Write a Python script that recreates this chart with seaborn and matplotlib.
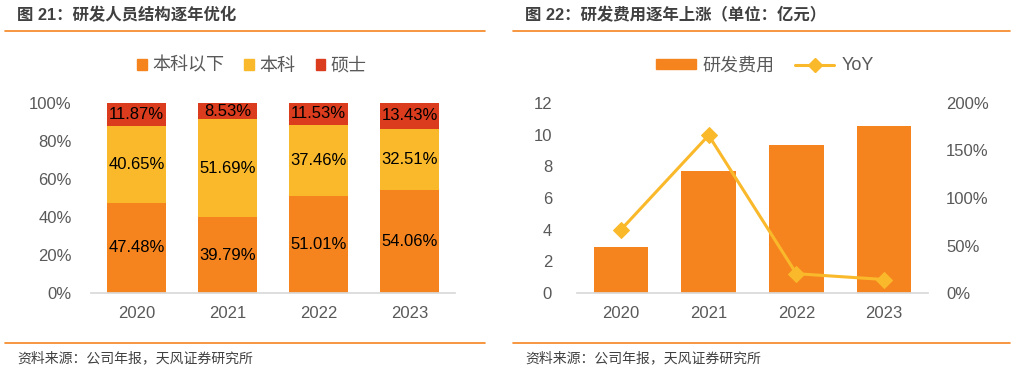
import numpy as np
import pandas as pd
import matplotlib
matplotlib.use("Agg")
import matplotlib.pyplot as plt
import seaborn as sns
from matplotlib.patches import Patch
from matplotlib.lines import Line2D

# data
years = ["2020", "2021", "2022", "2023"]
below_bachelor = [47.48, 39.79, 51.01, 54.06]
bachelor = [40.65, 51.69, 37.46, 32.51]
master = [11.87, 8.53, 11.53, 13.43]

rd_cost = [2.90, 7.73, 9.32, 10.57]
yoy = [66.5, 166.0, 20.3, 14.2]

sns.set_theme(style="white")
plt.rcParams["font.family"] = ["Liberation Sans", "Noto Sans CJK SC", "DejaVu Sans"]

orange = "#F5841F"
yellow = "#F9B92B"
red = "#DC3C1E"
gray = "#595959"
title_c = "#404040"

fig = plt.figure(figsize=(10.16, 3.73), dpi=100)
W, H = 1016, 373


def fx(px):
    return px / W


def fy(py):
    return 1 - py / H


# panel decorations
for x0, x1, title in [(5, 485, "图 21：研发人员结构逐年优化"),
                      (513, 1010, "图 22：研发费用逐年上涨（单位：亿元）")]:
    fig.add_artist(Line2D([fx(x0), fx(x1)], [fy(31), fy(31)], color=orange, lw=1.2))
    fig.add_artist(Line2D([fx(x0), fx(x1)], [fy(343), fy(343)], color=orange, lw=1.2))
    fig.text(fx(x0 + 12), fy(15), title, fontsize=11.8, fontweight="bold",
             color=title_c, va="center", ha="left")
    fig.text(fx(x0 + 12), fy(358), "资料来源：公司年报，天风证券研究所", fontsize=10,
             color=title_c, va="center", ha="left")

# ---- left chart: stacked share
df = pd.DataFrame({"year": years, "below": below_bachelor, "bach": bachelor, "master": master})
df["total"] = df["below"] + df["bach"] + df["master"]
df["low2"] = df["below"] + df["bach"]

ax1 = fig.add_axes([fx(91), fy(293), fx(455 - 91), (293 - 103) / H])
sns.barplot(data=df, x="year", y="total", color=red, width=0.64, saturation=1, linewidth=0, ax=ax1)
sns.barplot(data=df, x="year", y="low2", color=yellow, width=0.64, saturation=1, linewidth=0, ax=ax1)
sns.barplot(data=df, x="year", y="below", color=orange, width=0.64, saturation=1, linewidth=0, ax=ax1)

for i, r in df.iterrows():
    ax1.text(i, r["below"] / 2, f"{r['below']:.2f}%", ha="center", va="center", fontsize=12, color="black")
    ax1.text(i, r["below"] + r["bach"] / 2, f"{r['bach']:.2f}%", ha="center", va="center", fontsize=12, color="black")
    ax1.text(i, r["low2"] + r["master"] / 2, f"{r['master']:.2f}%", ha="center", va="center", fontsize=12, color="black")

ax1.set_ylim(0, 100)
ax1.set_yticks(np.arange(0, 101, 20))
ax1.set_yticklabels([f"{v}%" for v in range(0, 101, 20)])
ax1.set_xlim(-0.5, 3.5)
ax1.set_xlabel("")
ax1.set_ylabel("")

legend1 = [Patch(color=orange, label="本科以下"), Patch(color=yellow, label="本科"), Patch(color=red, label="硕士")]
fig.legend(handles=legend1, loc="center", bbox_to_anchor=(fx(252), fy(66)), ncol=3, frameon=False,
           fontsize=13, handlelength=0.55, handleheight=0.55, handletextpad=0.3, columnspacing=1.1,
           labelcolor=gray)

# ---- right chart: R&D cost + YoY
ax2 = fig.add_axes([fx(577), fy(293), fx(928 - 577), (293 - 103) / H])
sns.barplot(x=years, y=rd_cost, color=orange, width=0.62, saturation=1, linewidth=0, ax=ax2)
ax2.set_ylim(0, 12)
ax2.set_yticks(range(0, 13, 2))

ax3 = ax2.twinx()
sns.lineplot(x=np.arange(len(years)), y=yoy, ax=ax3, color=yellow, lw=2.2,
             marker="D", markersize=8, markeredgecolor=yellow)
ax3.set_ylim(0, 200)
ax3.set_yticks(range(0, 201, 50))
ax3.set_yticklabels([f"{v}%" for v in range(0, 201, 50)])
ax2.set_xlim(-0.5, 3.5)

legend2 = [Patch(color=orange, label="研发费用"),
           Line2D([0], [0], color=yellow, lw=2.2, marker="D", markersize=7, label="YoY")]
fig.legend(handles=legend2, loc="center", bbox_to_anchor=(fx(765), fy(66)), ncol=2, frameon=False,
           fontsize=13, handlelength=2.2, handleheight=0.5, handletextpad=0.4, columnspacing=1.1,
           labelcolor=gray)

# axes styling
for ax in (ax1, ax2, ax3):
    for s in ax.spines.values():
        s.set_visible(False)
    ax.tick_params(axis="y", length=0, labelsize=12, labelcolor=gray)
    ax.grid(False)
for ax in (ax1, ax2):
    ax.spines["bottom"].set_visible(True)
    ax.spines["bottom"].set_color("#D9D9D9")
    ax.set_xticks(np.arange(-0.5, 4, 1), minor=True)
    ax.tick_params(axis="x", which="major", length=0, labelsize=12, labelcolor=gray, pad=9)
    ax.tick_params(axis="x", which="minor", length=5, color="#D9D9D9", direction="out")
ax1.tick_params(axis="y", pad=14)
ax2.tick_params(axis="y", pad=18)
ax3.tick_params(axis="y", pad=13)

fig.savefig("out.png", dpi=100)
